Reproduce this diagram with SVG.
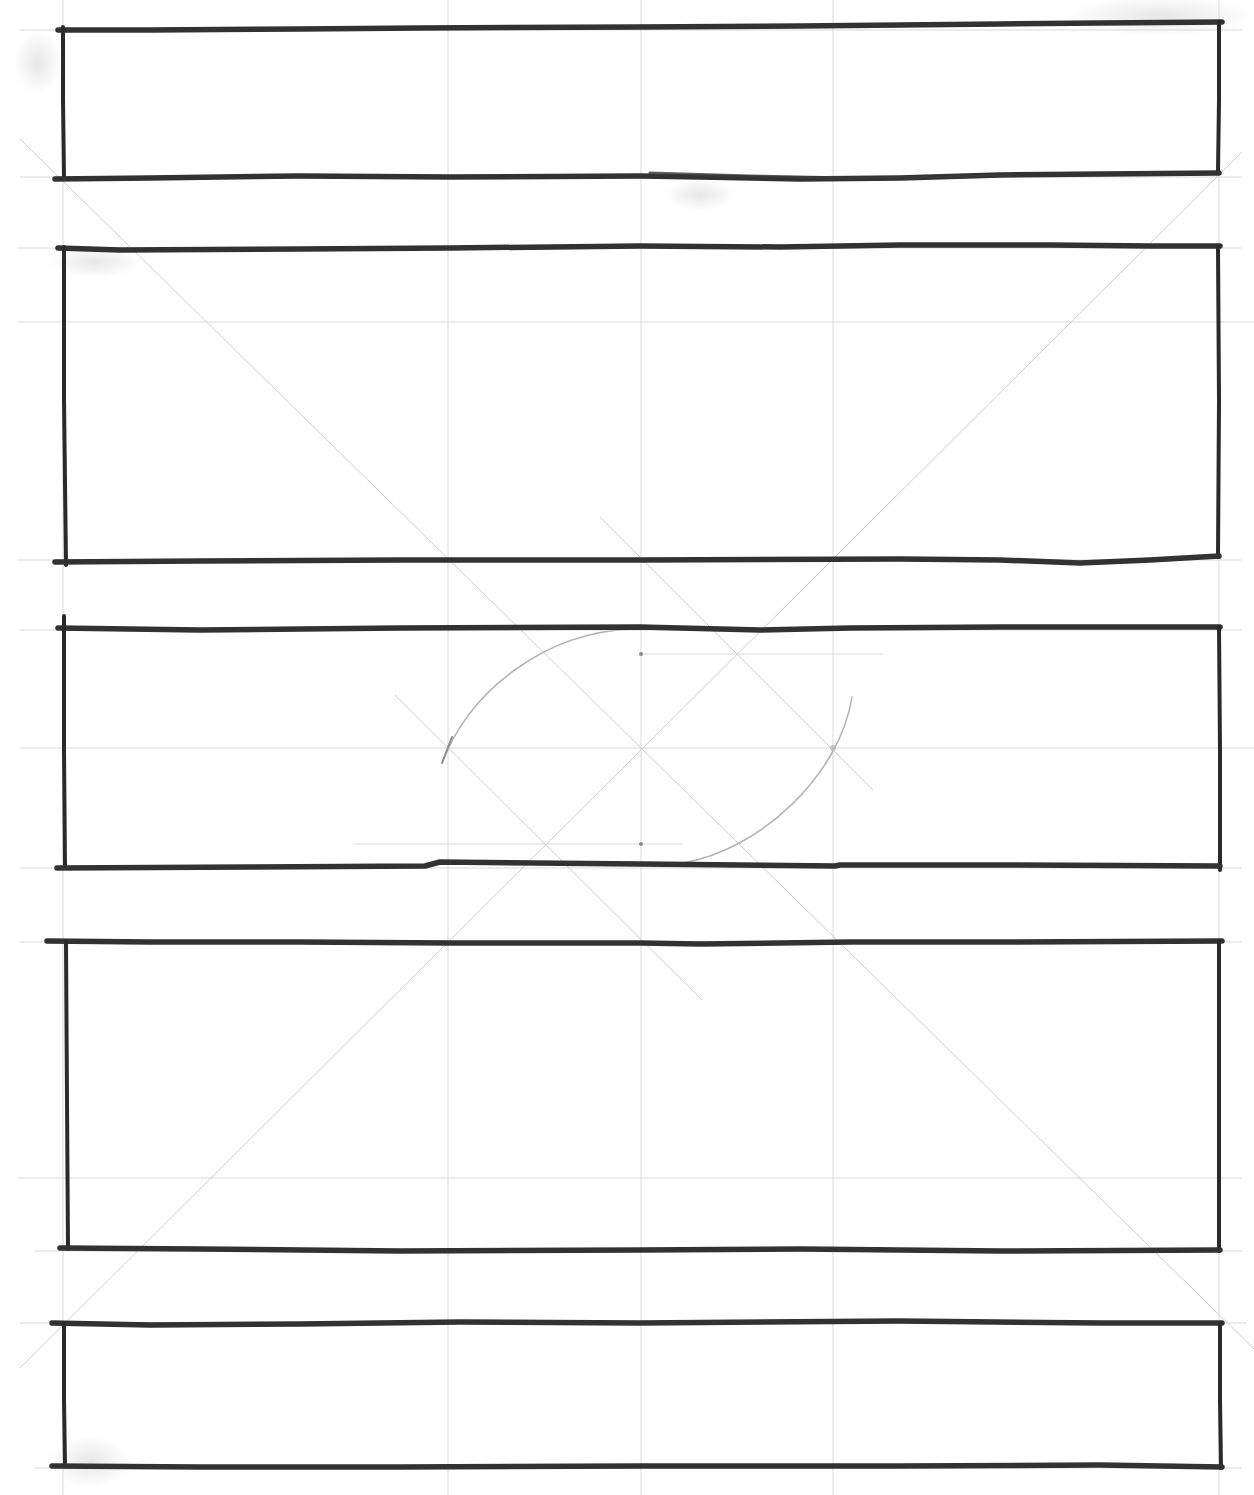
<svg xmlns="http://www.w3.org/2000/svg" width="1254" height="1495" viewBox="0 0 1254 1495">
  <defs>
    <style>
      .guide { stroke: #d9d9d9; stroke-width: 1; fill: none; }
      .guide-d { stroke: #cdcdcd; stroke-width: 1; fill: none; }
      .arc { stroke: #b4b4b4; stroke-width: 1.6; fill: none; stroke-linecap: round; }
      .edge { stroke: #323232; stroke-width: 5.5; fill: none; stroke-linecap: round; stroke-linejoin: round; }
      .edge-v { stroke: #2a2a2a; stroke-width: 4; fill: none; stroke-linecap: round; stroke-linejoin: round; }
      .edge-x { stroke: #3a3a3a; stroke-width: 3; fill: none; stroke-linecap: round; stroke-linejoin: round; opacity: 0.8; }
      .dot { fill: #8a8a8a; }
    </style>
    <radialGradient id="smudge">
      <stop offset="0" stop-color="#a8a8a8" stop-opacity="0.28"/>
      <stop offset="1" stop-color="#a8a8a8" stop-opacity="0"/>
    </radialGradient>
  </defs>
  <rect x="0" y="0" width="1254" height="1495" fill="#ffffff"/>

  <g id="smudges">
    <ellipse cx="1160" cy="16" rx="95" ry="20" fill="url(#smudge)"/>
    <ellipse cx="38" cy="62" rx="24" ry="32" fill="url(#smudge)"/>
    <ellipse cx="95" cy="262" rx="45" ry="16" fill="url(#smudge)"/>
    <ellipse cx="90" cy="1462" rx="40" ry="26" fill="url(#smudge)"/>
    <ellipse cx="700" cy="195" rx="35" ry="16" fill="url(#smudge)"/>
  </g>

  <g id="guides">
    <line class="guide" x1="63" y1="0" x2="63" y2="1495"/>
    <line class="guide" x1="448" y1="0" x2="448" y2="1495"/>
    <line class="guide" x1="641" y1="0" x2="641" y2="1495"/>
    <line class="guide" x1="833" y1="0" x2="833" y2="1495"/>
    <line class="guide" x1="1219" y1="0" x2="1219" y2="1495"/>
    <line class="guide" x1="20" y1="30" x2="1242" y2="30"/>
    <line class="guide" x1="20" y1="177" x2="1242" y2="177"/>
    <line class="guide" x1="17" y1="248" x2="1242" y2="248"/>
    <line class="guide" x1="17" y1="322" x2="1254" y2="322"/>
    <line class="guide" x1="17" y1="560" x2="1242" y2="560"/>
    <line class="guide" x1="20" y1="630" x2="1242" y2="630"/>
    <line class="guide" x1="20" y1="748" x2="1254" y2="748"/>
    <line class="guide" x1="20" y1="868" x2="1242" y2="868"/>
    <line class="guide" x1="20" y1="942" x2="1242" y2="942"/>
    <line class="guide" x1="17" y1="1178" x2="1242" y2="1178"/>
    <line class="guide" x1="35" y1="1251" x2="1242" y2="1251"/>
    <line class="guide" x1="20" y1="1323" x2="1247" y2="1323"/>
    <line class="guide" x1="35" y1="1468" x2="1242" y2="1468"/>
    <line class="guide-d" x1="20" y1="139" x2="1254" y2="1349"/>
    <line class="guide-d" x1="20" y1="1368" x2="1242" y2="152"/>
    <line class="guide-d" x1="395" y1="695" x2="702" y2="1000"/>
    <line class="guide-d" x1="600" y1="517" x2="873" y2="790"/>
    <line class="guide" x1="641" y1="654" x2="883" y2="654"/>
    <line class="guide" x1="353" y1="844" x2="683" y2="844"/>
    <circle class="dot" cx="641" cy="654" r="2"/>
    <circle class="dot" cx="641" cy="844" r="2"/>
    <circle cx="833" cy="748" r="3" fill="#c4c4c4"/>
    <path class="arc" d="M442,763 C470,690 545,632 633,629"/>
    <path d="M442,763 L452,737" stroke="#8e8e8e" stroke-width="2" fill="none" stroke-linecap="round"/>
    <path class="arc" d="M852,697 C840,775 760,850 683,863"/>
  </g>

  <g id="panel-1">
    <path class="edge" d="M58,30 L150,30 L300,29 L420,28 L640,27 L800,26 L1000,24 L1100,23 L1222,22"/>
    <path class="edge-v" d="M63,27 L63,100 L64,177"/>
    <path class="edge-v" d="M1219,22 L1219,100 L1218,172"/>
    <path class="edge" d="M55,179 L150,178 L300,176 L450,177 L640,176 L700,177 L800,179 L900,178 L1000,175 L1219,173"/>
    <path class="edge-x" d="M650,173 L750,176 L850,178 L950,177 L1010,175"/>
  </g>

  <g id="panel-2">
    <path class="edge" d="M58,248 L120,250 L300,249 L450,248 L640,246 L780,247 L900,245 L1050,245 L1150,246 L1220,246"/>
    <path class="edge-v" d="M64,247 L64,400 L66,565"/>
    <path class="edge-v" d="M1218,246 L1219,400 L1218,557"/>
    <path class="edge" d="M55,562 L200,561 L400,560 L640,560 L900,559 L1000,560 L1080,563 L1150,560 L1219,556"/>
  </g>

  <g id="panel-3">
    <path class="edge" d="M58,628 L200,630 L400,628 L640,627 L760,630 L850,628 L1000,627 L1220,627"/>
    <path class="edge-v" d="M64,616 L64,750 L65,868"/>
    <path class="edge-v" d="M1219,627 L1220,750 L1220,870"/>
    <path class="edge" d="M57,868 L250,867 L425,866 L440,862 L640,864 L835,866 L840,865 L1000,865 L1220,866"/>
  </g>

  <g id="panel-4">
    <path class="edge" d="M47,941 L150,942 L300,942 L450,943 L640,943 L700,944 L850,942 L1000,942 L1222,941"/>
    <path class="edge-v" d="M66,941 L67,1100 L68,1249"/>
    <path class="edge-v" d="M1219,941 L1219,1100 L1219,1251"/>
    <path class="edge" d="M60,1248 L200,1249 L400,1251 L640,1250 L800,1249 L1000,1251 L1220,1250"/>
  </g>

  <g id="panel-5">
    <path class="edge" d="M52,1323 L150,1325 L300,1324 L460,1322 L640,1323 L900,1321 L1100,1323 L1222,1323"/>
    <path class="edge-v" d="M64,1323 L64,1400 L65,1466"/>
    <path class="edge-v" d="M1220,1323 L1220,1400 L1221,1468"/>
    <path class="edge" d="M52,1466 L200,1467 L400,1467 L640,1466 L900,1466 L1100,1465 L1222,1467"/>
  </g>
</svg>
